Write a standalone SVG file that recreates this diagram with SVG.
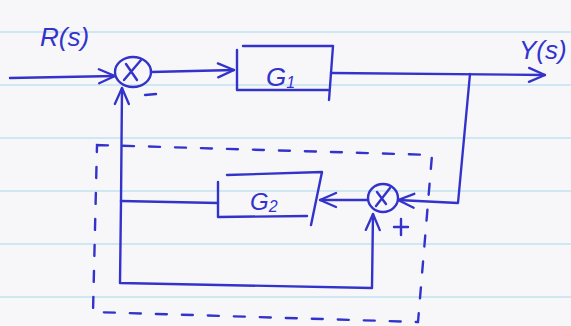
<svg xmlns="http://www.w3.org/2000/svg" width="571" height="326" viewBox="0 0 571 326">
  <style>
    .ink { fill: none; stroke: #3333cc; stroke-width: 2.4; stroke-linecap: round; stroke-linejoin: round; }
    .dash { fill: none; stroke: #3333cc; stroke-width: 2.4; stroke-linecap: round; stroke-dasharray: 11 15; }
    .rule { stroke: #c0e2ef; stroke-width: 1.6; }
    .txt { font-family: "Liberation Sans", "DejaVu Sans", sans-serif; fill: #3333cc; font-style: italic; }
  </style>
  <defs>
    <marker id="arrow" viewBox="0 0 20 20" refX="19" refY="10" markerWidth="20" markerHeight="20" markerUnits="userSpaceOnUse" orient="auto">
      <path d="M3,3 L19,10 L3,17" fill="none" stroke="#3333cc" stroke-width="2.3" stroke-linecap="round" stroke-linejoin="round"/>
    </marker>
  </defs>

  <!-- paper -->
  <rect width="571" height="326" fill="#f7f7f9"/>
  <g id="ruling">
    <line class="rule" x1="0" y1="32" x2="571" y2="32"/>
    <line class="rule" x1="0" y1="85" x2="571" y2="85"/>
    <line class="rule" x1="0" y1="138" x2="571" y2="138"/>
    <line class="rule" x1="0" y1="191" x2="571" y2="191"/>
    <line class="rule" x1="0" y1="244" x2="571" y2="244"/>
    <line class="rule" x1="0" y1="297" x2="571" y2="297"/>
  </g>

  <!-- dashed grouping box around the inner loop -->
  <g id="inner-loop-box">
    <path class="dash" d="M97,145 L432,155 L418,322 L93,312 Z"/>
  </g>

  <!-- connectors -->
  <g id="connectors">
    <path class="ink" d="M10,78 L115,76" marker-end="url(#arrow)"/>
    <path class="ink" d="M151,72 L234,70" marker-end="url(#arrow)"/>
    <path class="ink" d="M331,73 L545,75" marker-end="url(#arrow)"/>
    <path class="ink" d="M470,74 L458,203 L398,200" marker-end="url(#arrow)"/>
    <path class="ink" d="M368,200 L320,200" marker-end="url(#arrow)"/>
    <path class="ink" d="M218,203 L121,201"/>
    <path class="ink" d="M121,201 L120,283 L372,288 L373,214" marker-end="url(#arrow)"/>
    <path class="ink" d="M121,201 L122,88" marker-end="url(#arrow)"/>
  </g>

  <!-- summing junction 1 -->
  <g id="sum1">
    <ellipse class="ink" cx="133" cy="72" rx="18" ry="15"/>
    <path class="ink" d="M124,80 L141,60 M126,64 L137,80"/>
    <path class="ink" d="M145,95 L156,94"/>
  </g>

  <!-- forward block G1 -->
  <g id="g1">
    <path class="ink" d="M237,50 L237,90 L328,90 M243,46 L333,46 L329,100"/>
    <text class="txt" x="266" y="86" font-size="26">G<tspan font-size="16" dy="2">1</tspan></text>
  </g>

  <!-- summing junction 2 -->
  <g id="sum2">
    <ellipse class="ink" cx="383" cy="198" rx="15" ry="14"/>
    <path class="ink" d="M376,206 L390,188 M377,192 L386,204"/>
    <path class="ink" d="M394,227 L408,227 M401,219 L401,235"/>
  </g>

  <!-- feedback block G2 -->
  <g id="g2">
    <path class="ink" d="M218,182 L218,217 L307,216 M227,175 L322,172 L311,225"/>
    <text class="txt" x="250" y="210" font-size="24">G<tspan font-size="16" dy="2">2</tspan></text>
  </g>

  <!-- signal labels -->
  <g id="labels">
    <text class="txt" x="40" y="46" font-size="26">R(s)</text>
    <text class="txt" x="519" y="59" font-size="26">Y(s)</text>
  </g>
</svg>
